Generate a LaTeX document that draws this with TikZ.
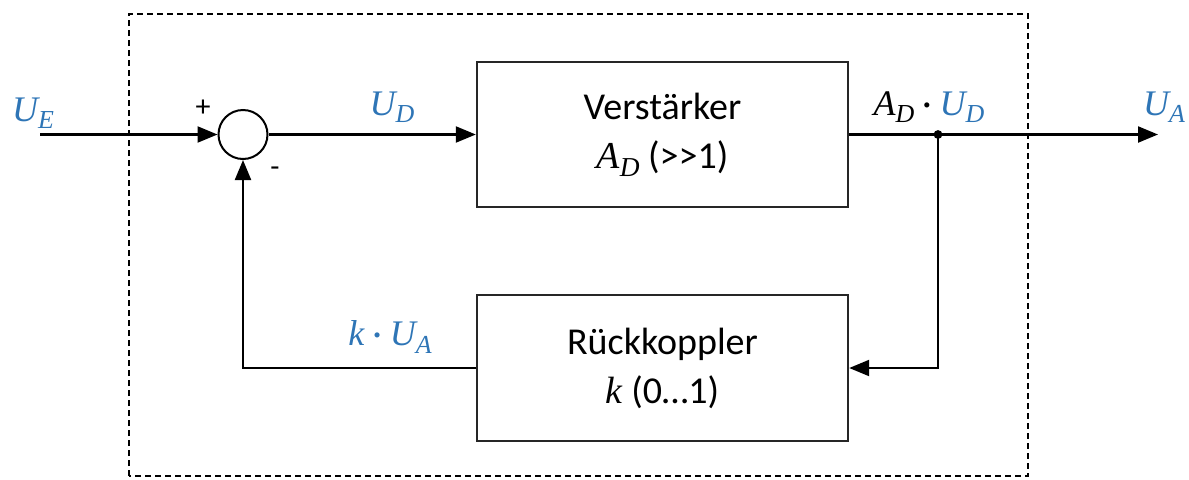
\documentclass[tikz,border=0pt]{standalone}
\usepackage{fontspec}
\setmainfont{Carlito}
\newfontfamily\mfont{Liberation Serif}
\usetikzlibrary{arrows.meta,positioning}
\definecolor{sigblue}{RGB}{46,117,182}
\newcommand{\var}[2]{{\mfont\itshape #1\raisebox{-0.45ex}{\scalebox{0.72}{#2}}}}

\tikzset{
  block/.style={draw=black!85, line width=1.2pt, minimum width=185.5pt, minimum height=72.5pt,
    align=center, font=\fontsize{19}{24.5}\selectfont},
  sig/.style={line width=1.1pt, -{Triangle[length=10pt,width=8pt]}},
  lbl/.style={text=sigblue, font=\fontsize{18}{20}\selectfont, inner sep=0pt},
  sign/.style={font=\fontsize{15}{17}\selectfont, inner sep=0pt}
}

\begin{document}
\begin{tikzpicture}[x=0.5pt,y=0.5pt]
\useasboundingbox (0,0) rectangle (1189,479);
\draw[dash pattern=on 3pt off 2pt, line width=0.8pt] (129,3) rectangle (1028,465);

\node[draw, circle, line width=1pt, minimum size=24.5pt, inner sep=0pt] (sum) at (243,344.5) {};
\node[block] (amp) at (662.5,344.5) {Verstärker\\\var{A}{D} (>{}>1)};
\node[block, minimum height=73pt] (fb) at (662.5,111) {Rückkoppler\\{\mfont\itshape k} (0…1)};

\coordinate (in) at (40,344.5);
\coordinate (split) at (938,344.5);
\coordinate (out) at (1158,344.5);

\draw[sig] (in) -- (sum.west);
\draw[sig] (sum.east) -- (amp.west);
\draw[line width=1.1pt] (amp.east) -- (split);
\draw[sig] (split) -- (out);
\draw[sig] (split) |- (fb.east);
\draw[sig] (fb.west) -| (sum.south);
\fill (split) circle (2.2pt);

\node[sign] (plus) at (203,371) {+};
\node[sign] (minus) at (275,307) {-};

\node[lbl] (ue) at (33,366) {\var{U}{E}};
\node[lbl] (ud) at (392,372) {\var{U}{D}};
\node[lbl] (adud) at (929,372) {{\color{black}\var{A}{D} ·} \var{U}{D}};
\node[lbl] (ua) at (1164,372) {\var{U}{A}};
\node[lbl] (kua) at (390,142) {{\mfont\itshape k} · \var{U}{A}};
\end{tikzpicture}
\end{document}
